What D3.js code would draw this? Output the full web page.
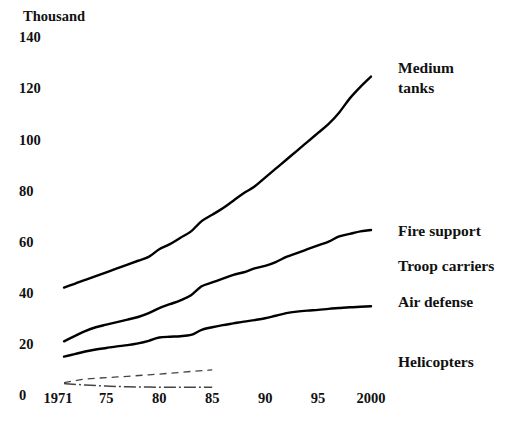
<!DOCTYPE html>
<html>
<head>
<meta charset="utf-8">
<script src="https://cdn.jsdelivr.net/npm/d3@7"></script>
<style>
  body { margin: 0; background: #fff; }
  text { font-family: "Liberation Serif", "DejaVu Serif", serif; font-weight: bold; fill: #111; }
</style>
</head>
<body>
<div id="canvas"></div>
<script>
// values, thousands
var years = [1971, 1972, 1973, 1974, 1975, 1976, 1977, 1978, 1979, 1980,
             1981, 1982, 1983, 1984, 1985, 1986, 1987, 1988, 1989, 1990,
             1991, 1992, 1993, 1994, 1995, 1996, 1997, 1998, 1999, 2000];
var mediumTanks = [42, 43.5, 45, 46.5, 48, 49.5, 51, 52.5, 54, 57,
                   59, 61.5, 64, 68, 70.5, 73, 76, 79, 81.5, 85,
                   88.5, 92, 95.5, 99, 102.5, 106, 110.5, 116, 120.5, 124.5];
var fireSupport = [21, 23, 25, 26.5, 27.5, 28.5, 29.5, 30.5, 32, 34,
                   35.5, 37, 39, 42.5, 44, 45.5, 47, 48, 49.5, 50.5,
                   52, 54, 55.5, 57, 58.5, 60, 62, 63, 64, 64.5];
var airDefense = [15, 16, 17, 17.8, 18.4, 19, 19.5, 20.2, 21.2, 22.5,
                  22.8, 23, 23.5, 25.5, 26.5, 27.3, 28, 28.7, 29.3, 30,
                  31, 32, 32.6, 33, 33.3, 33.7, 34, 34.3, 34.5, 34.7];
// helicopters only drawn faintly up to 1985
var heliYears = [1971, 1973, 1975, 1977, 1979, 1981, 1983, 1985];
var heliUpper = [4.8, 6.2, 6.8, 7.3, 7.9, 8.5, 9.2, 9.8];
var heliLower = [4.5, 3.9, 3.5, 3.2, 3.1, 3, 3, 3];

var yTicks = [0, 20, 40, 60, 80, 100, 120, 140];
var xTicks = [1971, 1975, 1980, 1985, 1990, 1995, 2000];
var xTickLabels = ['1971', '75', '80', '85', '90', '95', '2000'];
// right-hand labels, placed at a value on the y scale
var seriesLabels = [['Medium', 'tanks'], ['Fire support'], ['Troop carriers'], ['Air defense'], ['Helicopters']];
var labelAt = [125.9, 62.2, 48.5, 34.4, 10.9];

var W = 507, H = 423;
var svg = d3.select('#canvas').append('svg').attr('width', W).attr('height', H);

var x = d3.scaleLinear().domain([1971, 2000]).range([64, 371]);
var y = d3.scaleLinear().domain([0, 140]).range([395, 37]);

//unit label
svg.append('text').attr('x', 23).attr('y', 21).attr('font-size', 14.5).text('Thousand');

//y tick labels, no axis line in the original
svg.append('g').selectAll('text').data(yTicks).enter().append('text')
    .attr('x', 19).attr('y', function(d){ return y(d); }).attr('dy', '0.36em')
    .attr('font-size', 14.5).text(function(d){ return d; });

//x tick labels
svg.append('g').selectAll('text').data(xTicks).enter().append('text')
    .attr('x', function(d, i){ return x(d) + (i === 0 ? -6 : 0); }).attr('y', 403)
    .attr('text-anchor', 'middle').attr('font-size', 14.5)
    .text(function(d, i){ return xTickLabels[i]; });

var line = d3.line()
    .x(function(d){ return x(d[0]); })
    .y(function(d){ return y(d[1]); })
    .curve(d3.curveMonotoneX);

[mediumTanks, fireSupport, airDefense].forEach(function(s){
    svg.append('path').datum(d3.zip(years, s))
        .attr('d', line).attr('fill', 'none')
        .attr('stroke', '#000').attr('stroke-width', 2.4).attr('stroke-linecap', 'round');
});

//faint helicopter traces
svg.append('path').datum(d3.zip(heliYears, heliUpper))
    .attr('d', line).attr('fill', 'none').attr('stroke', '#444')
    .attr('stroke-width', 1.3).attr('stroke-dasharray', '7,5');
svg.append('path').datum(d3.zip(heliYears, heliLower))
    .attr('d', line).attr('fill', 'none').attr('stroke', '#444')
    .attr('stroke-width', 1.5).attr('stroke-dasharray', '12,3,2,3');

//series labels on the right
var lab = svg.append('g').selectAll('text').data(seriesLabels).enter().append('text')
    .attr('x', x(2000) + 27).attr('y', function(d, i){ return y(labelAt[i]); })
    .attr('font-size', 15.5);
lab.selectAll('tspan').data(function(d){ return d; }).enter().append('tspan')
    .attr('x', x(2000) + 27).attr('dy', function(d, i){ return i ? 20 : 0; })
    .text(function(d){ return d; });
</script>
</body>
</html>
